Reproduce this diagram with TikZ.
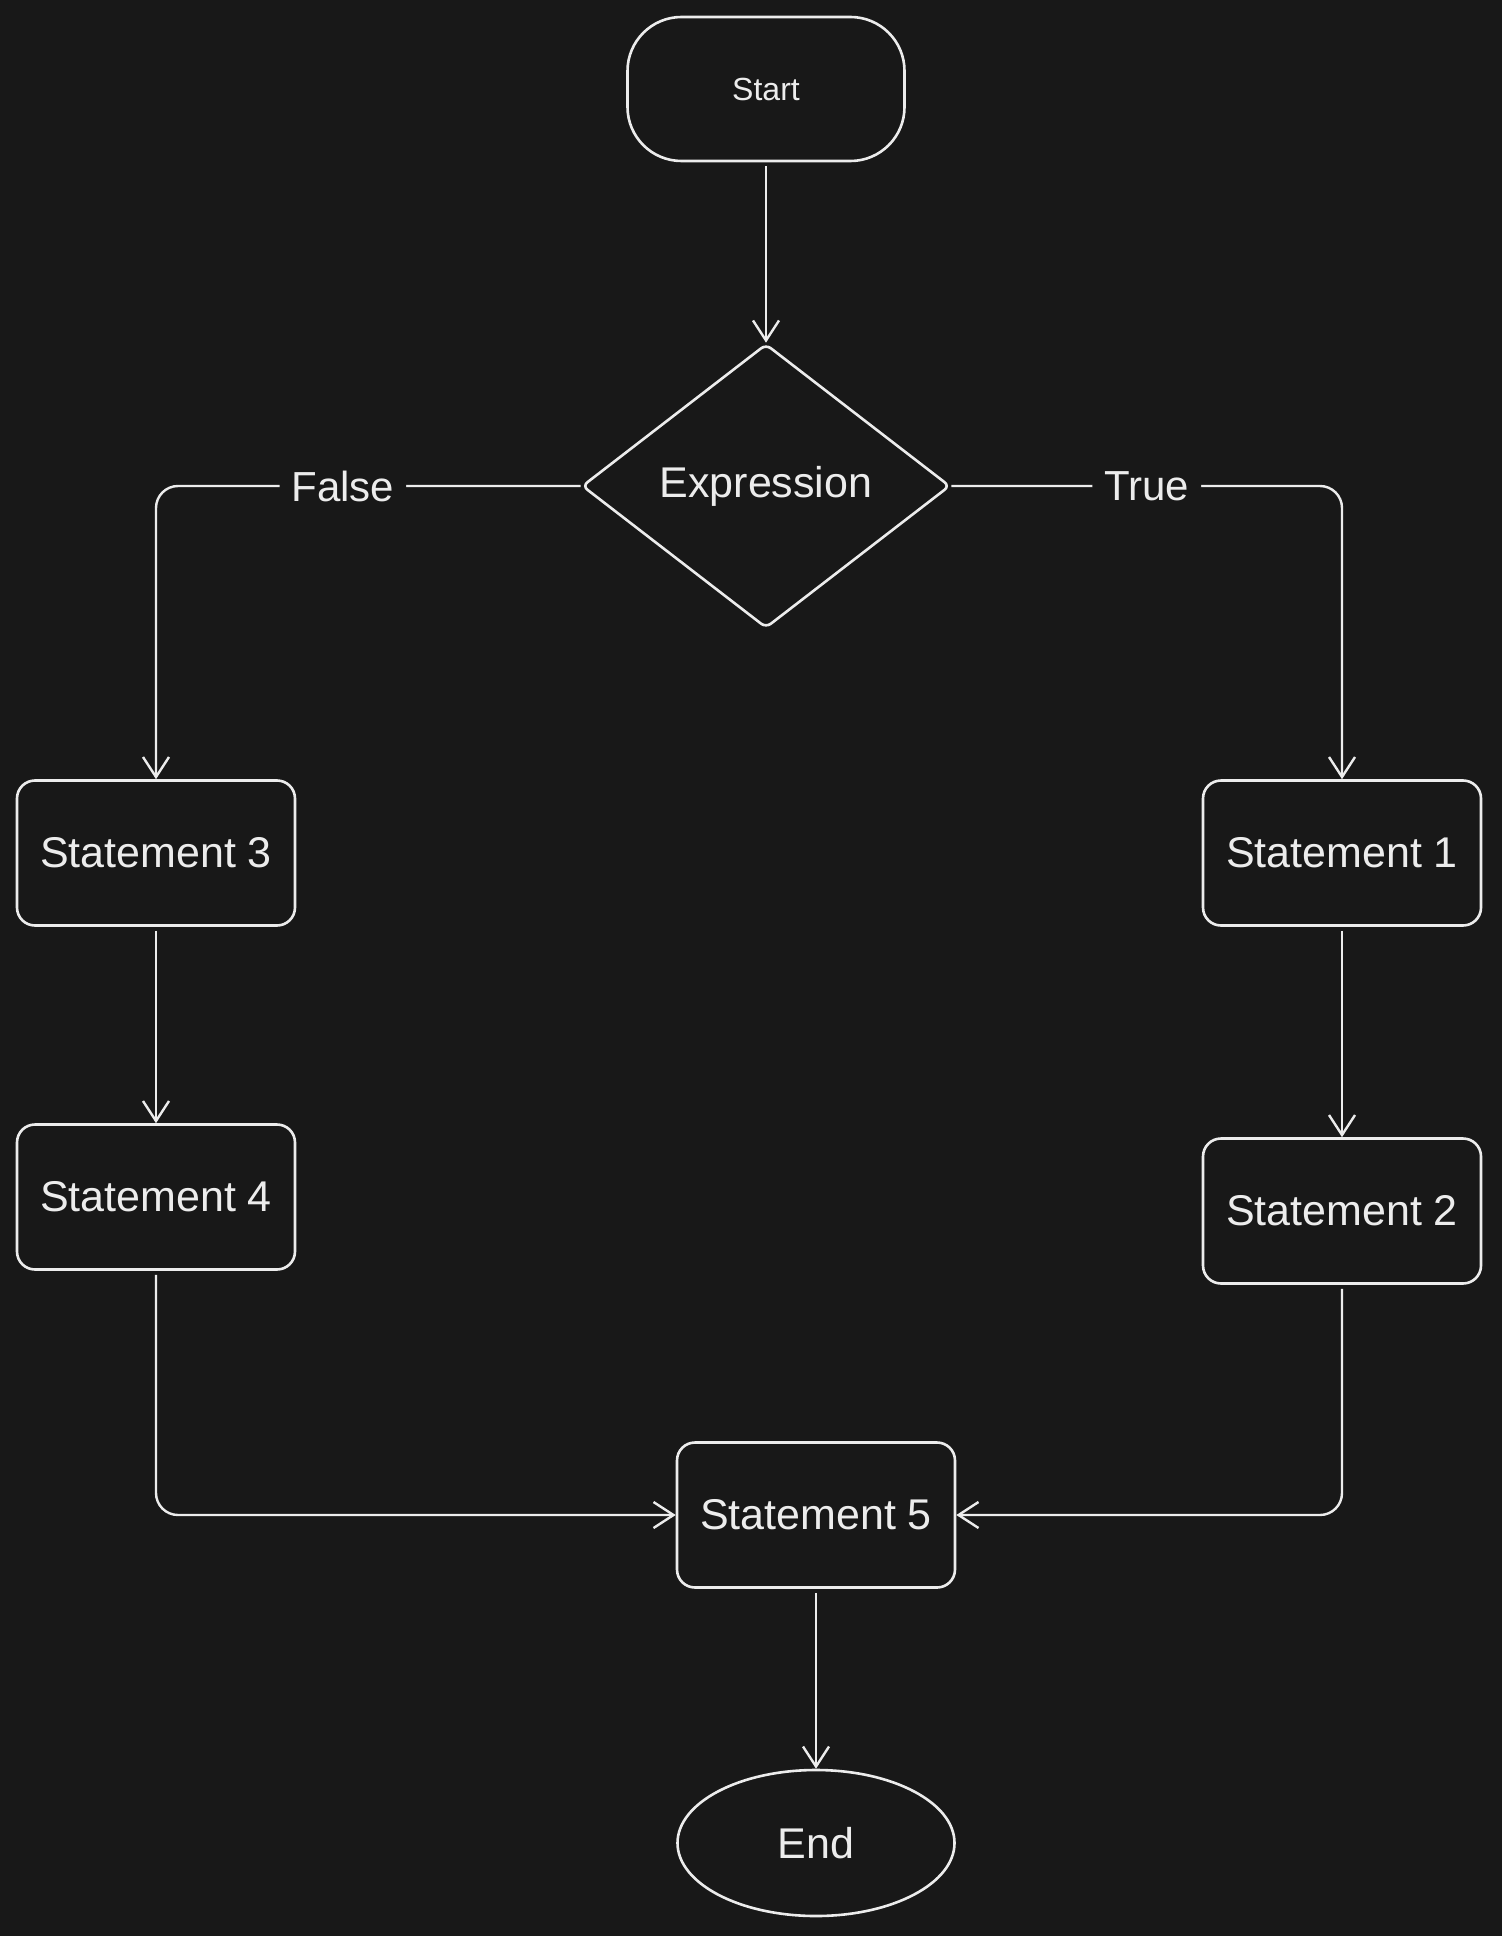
\documentclass[tikz,border=0pt]{standalone}
\usepackage{fontspec}
\setmainfont{Liberation Sans}
\usetikzlibrary{shapes.geometric, arrows.meta, positioning}
\definecolor{CanvasBg}{RGB}{24, 24, 24}
\definecolor{InkWhite}{RGB}{236, 236, 236}

\begin{document}
\begin{tikzpicture}[x=0.5pt, y=-0.5pt, >={Straight Barb[length=10pt, width=13pt]},
    stmt/.style={draw=InkWhite, line width=1.3pt, rounded corners=9pt, minimum width=139pt, minimum height=72.5pt, inner sep=0pt, text=InkWhite, font=\fontsize{21.5}{25}\selectfont},
    flow/.style={->, draw=InkWhite, line width=1.2pt, rounded corners=11pt, line join=round},
    lbl/.style={fill=CanvasBg, text=InkWhite, inner xsep=6pt, inner ysep=2pt, font=\fontsize{21}{24}\selectfont}]
      % Canvas
      \fill[CanvasBg] (0, 0) rectangle (1502, 1936);

      % Terminals
      \node[draw=InkWhite, line width=1.3pt, rounded corners=27pt, minimum width=138.5pt, minimum height=72pt, text=InkWhite, font=\fontsize{16}{19}\selectfont] (start) at (766, 89) {Start};
      \node[draw=InkWhite, line width=1.3pt, ellipse, minimum width=138.5pt, minimum height=73pt, inner sep=0pt, text=InkWhite, font=\fontsize{21.5}{25}\selectfont] (fin) at (816, 1843) {End};

      % Decision
      \node[draw=InkWhite, line width=1.3pt, diamond, aspect=1.3, minimum width=184pt, minimum height=142pt, inner sep=0pt, rounded corners=3pt, text=InkWhite, font=\fontsize{21.5}{25}\selectfont] (expr) at (766, 486) {Expression};

      % Statements
      \node[stmt] (st1) at (1342, 853) {Statement 1};
      \node[stmt] (st2) at (1342, 1211) {Statement 2};
      \node[stmt] (st3) at (156, 853) {Statement 3};
      \node[stmt] (st4) at (156, 1197) {Statement 4};
      \node[stmt] (st5) at (816, 1515) {Statement 5};

      % Connectors
      \draw[flow, shorten <=2pt] (start) -- (expr);
      \draw[flow] (expr.west) -| node[lbl, pos=0.28] {False} (st3.north);
      \draw[flow] (expr.east) -| node[lbl, pos=0.25] {True} (st1.north);
      \draw[flow, shorten <=2pt] (st1) -- (st2);
      \draw[flow, shorten <=2pt] (st3) -- (st4);
      \draw[flow, shorten <=2pt] (st4.south) |- (st5.west);
      \draw[flow, shorten <=2pt] (st2.south) |- (st5.east);
      \draw[flow, shorten <=2pt] (st5) -- (fin);
\end{tikzpicture}
\end{document}
